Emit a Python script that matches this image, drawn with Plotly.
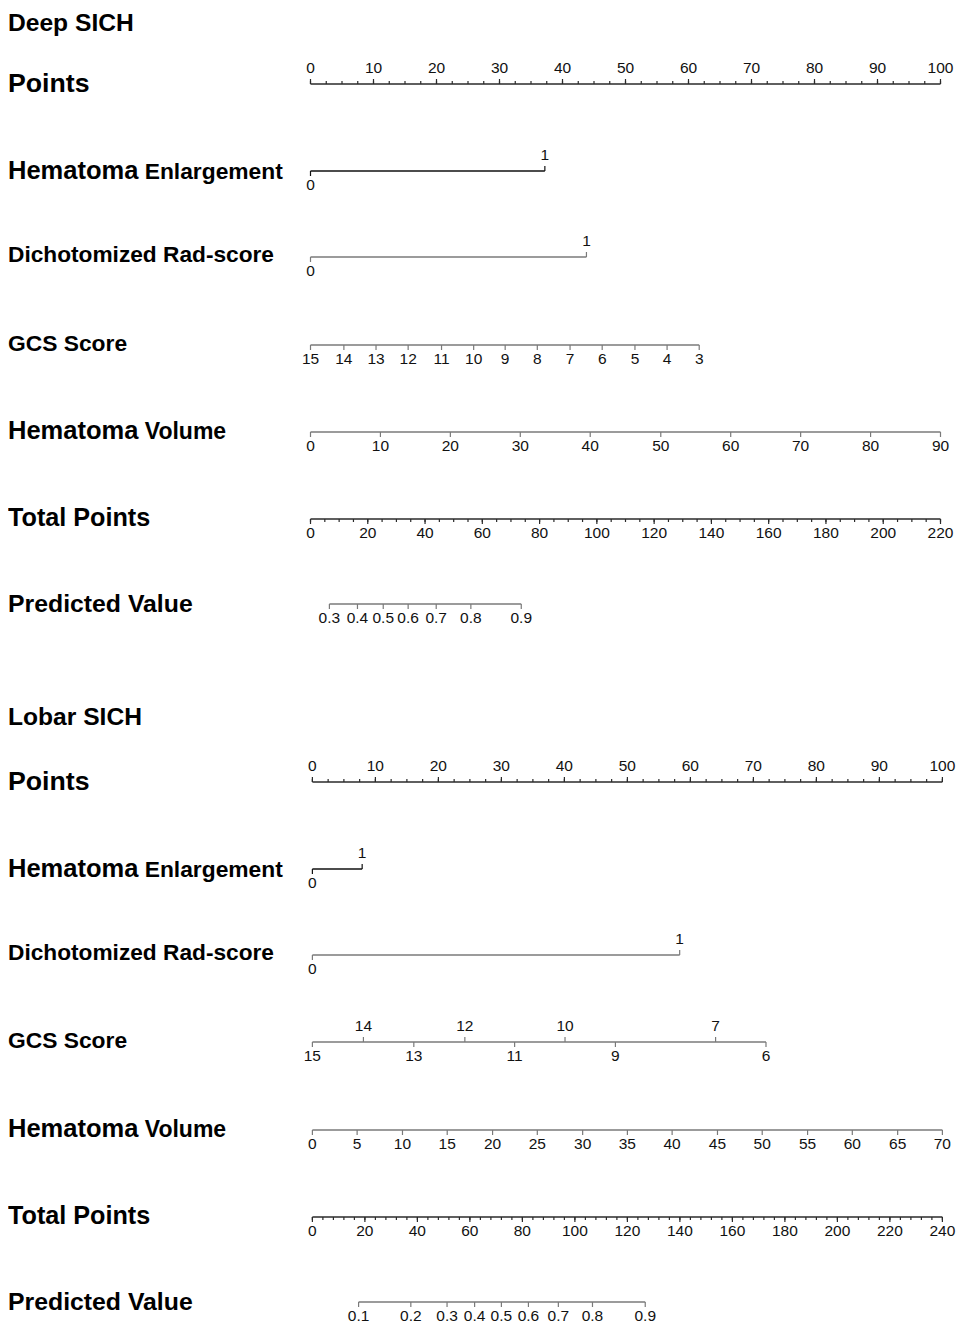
import numpy as np
import plotly.graph_objects as go

# ---------------- data ----------------
# Deep SICH
deep_points_ticks = [0, 10, 20, 30, 40, 50, 60, 70, 80, 90, 100]
deep_enl_vals = ["0", "1"]
deep_enl_pts = [0, 37.2]
deep_rad_vals = ["0", "1"]
deep_rad_pts = [0, 43.8]
deep_gcs_vals = ["15", "14", "13", "12", "11", "10", "9", "8", "7", "6", "5", "4", "3"]
deep_gcs_pts = [0, 5.3, 10.4, 15.5, 20.8, 25.9, 30.9, 36.0, 41.2, 46.3, 51.5, 56.6, 61.7]
deep_vol_vals = ["0", "10", "20", "30", "40", "50", "60", "70", "80", "90"]
deep_vol_pts = [0, 11.1, 22.2, 33.3, 44.4, 55.6, 66.7, 77.8, 88.9, 100]
deep_total_ticks = [0, 20, 40, 60, 80, 100, 120, 140, 160, 180, 200, 220]
deep_pred_vals = ["0.3", "0.4", "0.5", "0.6", "0.7", "0.8", "0.9"]
deep_pred_total = [6.6, 16.4, 25.4, 34.1, 43.9, 56.0, 73.6]

# Lobar SICH
lob_points_ticks = [0, 10, 20, 30, 40, 50, 60, 70, 80, 90, 100]
lob_enl_vals = ["0", "1"]
lob_enl_pts = [0, 7.9]
lob_rad_vals = ["0", "1"]
lob_rad_pts = [0, 58.3]
lob_gcs_vals = ["15", "14", "13", "12", "11", "10", "9", "7", "6"]
lob_gcs_pts = [0, 8.1, 16.1, 24.2, 32.1, 40.1, 48.1, 64.0, 72.0]
lob_gcs_side = ["down", "up", "down", "up", "down", "up", "down", "up", "down"]
lob_vol_vals = ["0", "5", "10", "15", "20", "25", "30", "35", "40", "45", "50", "55", "60", "65", "70"]
lob_vol_pts = [0, 7.1, 14.3, 21.4, 28.6, 35.7, 42.9, 50.0, 57.1, 64.3, 71.4, 78.6, 85.7, 92.9, 100]
lob_total_ticks = [0, 20, 40, 60, 80, 100, 120, 140, 160, 180, 200, 220, 240]
lob_pred_vals = ["0.1", "0.2", "0.3", "0.4", "0.5", "0.6", "0.7", "0.8", "0.9"]
lob_pred_total = [17.6, 37.5, 51.3, 61.8, 72.0, 82.3, 93.7, 106.7, 126.8]

# ---------------- layout helpers ----------------
W, H = 972, 1339
PAGE_PAD = 8          # default body margin of the html page
X0, PX_PER_PT = 310.5, 6.30
LOB_SHIFT = 0.3
GREY = "#7a7a7a"
DARK = "#2a2a2a"
FONT = "Liberation Sans, Arial, sans-serif"

fig = go.Figure()


def scale(y, xs, labels, sides, color, minor=None, lw=1.4):
    # axis line
    fig.add_trace(go.Scatter(x=[min(xs), max(xs)], y=[y, y], mode="lines",
                             line=dict(color=color, width=lw), hoverinfo="skip"))
    tx, ty, lx, ly, lt = [], [], [], [], []
    for v, lab, s in zip(xs, labels, sides):
        d = -1 if s == "up" else 1
        tx += [v, v, None]
        ty += [y, y + d * 5, None]
        lx.append(v)
        ly.append(y + d * 15)
        lt.append(lab)
    if minor is not None:
        d = -1 if sides[0] == "up" else 1
        for v in minor:
            tx += [v, v, None]
            ty += [y, y + d * 3, None]
    fig.add_trace(go.Scatter(x=tx, y=ty, mode="lines",
                             line=dict(color=color, width=1.2), hoverinfo="skip"))
    fig.add_trace(go.Scatter(x=lx, y=ly, mode="text", text=lt, textposition="middle center",
                             textfont=dict(family=FONT, size=15.5, color="#111"),
                             hoverinfo="skip"))


def label(y, html):
    fig.add_annotation(x=0, xref="paper", y=y, yref="y", text=html, showarrow=False,
                       xanchor="left", yanchor="middle", xshift=-2,
                       font=dict(family=FONT, color="#000"))


def panel(ys, shift, pts_ticks, enl, rad, gcs, gcs_side, vol, total_ticks, pred, title):
    tot_max = total_ticks[-1]
    to_x = lambda arr: [shift + t * 100.0 / tot_max for t in arr]
    sh = lambda arr: [shift + p for p in arr]

    label(ys["title"], "<b><span style='font-size:24.6px'>%s</span></b>" % title)

    label(ys["points"], "<b><span style='font-size:26.7px'>Points</span></b>")
    scale(ys["points"] + 1, sh(pts_ticks), [str(t) for t in pts_ticks], ["up"] * len(pts_ticks),
          DARK, minor=sh(np.arange(0, 100.01, 2.5)))

    label(ys["enl"], "<b><span style='font-size:25.5px'>Hematoma</span>"
                     "<span style='font-size:22.8px'> Enlargement</span></b>")
    scale(ys["enl"] + 1, sh(enl[1]), enl[0], ["down", "up"], "#111")

    label(ys["rad"], "<b><span style='font-size:22.7px'>Dichotomized Rad-score</span></b>")
    scale(ys["rad"] + 3, sh(rad[1]), rad[0], ["down", "up"], GREY)

    label(ys["gcs"], "<b><span style='font-size:22.8px'>GCS Score</span></b>")
    scale(ys["gcs"] + 2, sh(gcs[1]), gcs[0], gcs_side, GREY)

    label(ys["vol"], "<b><span style='font-size:25.5px'>Hematoma</span>"
                     "<span style='font-size:23px'> Volume</span></b>")
    scale(ys["vol"] + 2, sh(vol[1]), vol[0], ["down"] * len(vol[0]), GREY)

    label(ys["total"], "<b><span style='font-size:25.2px'>Total Points</span></b>")
    step = 5 if tot_max == 220 else 4
    scale(ys["total"] + 2, to_x(total_ticks), [str(t) for t in total_ticks],
          ["down"] * len(total_ticks), DARK, minor=to_x(np.arange(0, tot_max + 0.01, step)))

    label(ys["pred"], "<b><span style='font-size:24.8px'>Predicted Value</span></b>")
    scale(ys["pred"] + 1, to_x(pred[1]), pred[0], ["down"] * len(pred[0]), GREY)


deep_y = dict(title=22, points=83, enl=170, rad=254, gcs=343, vol=430, total=517, pred=603)
lob_y = dict(title=716, points=781, enl=868, rad=952, gcs=1040, vol=1128, total=1215, pred=1301)

panel(deep_y, 0, deep_points_ticks, (deep_enl_vals, deep_enl_pts), (deep_rad_vals, deep_rad_pts),
      (deep_gcs_vals, deep_gcs_pts), ["down"] * len(deep_gcs_vals),
      (deep_vol_vals, deep_vol_pts), deep_total_ticks, (deep_pred_vals, deep_pred_total), "Deep SICH")
panel(lob_y, LOB_SHIFT, lob_points_ticks, (lob_enl_vals, lob_enl_pts), (lob_rad_vals, lob_rad_pts),
      (lob_gcs_vals, lob_gcs_pts), lob_gcs_side,
      (lob_vol_vals, lob_vol_pts), lob_total_ticks, (lob_pred_vals, lob_pred_total), "Lobar SICH")

fig.update_layout(
    width=W, height=H, autosize=False,
    margin=dict(l=0, r=0, t=0, b=0),
    paper_bgcolor="white", plot_bgcolor="white",
    showlegend=False,
    xaxis=dict(range=[(PAGE_PAD - X0) / PX_PER_PT, (W + PAGE_PAD - X0) / PX_PER_PT],
               visible=False, fixedrange=True),
    yaxis=dict(range=[H + PAGE_PAD, PAGE_PAD], visible=False, fixedrange=True),
)

fig.write_html("out.html")
